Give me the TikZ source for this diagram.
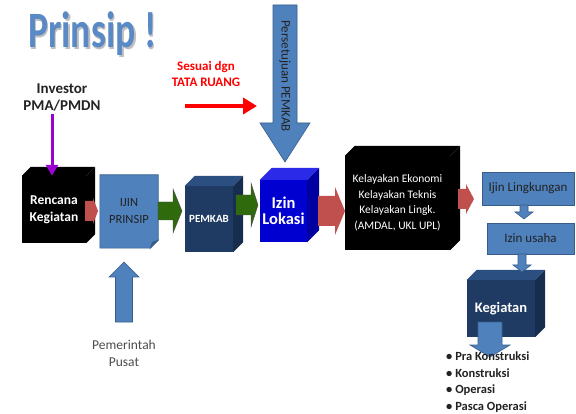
\documentclass[tikz,border=0pt]{standalone}
\usepackage{fontspec}
\setmainfont{Carlito}
\usetikzlibrary{arrows.meta,positioning,calc}
\pgfdeclarelayer{bg}
\pgfsetlayers{bg,main}
\definecolor{boxblue}{HTML}{4F81BD}
\definecolor{boxline}{HTML}{385D8A}
\definecolor{navy}{HTML}{1F3B63}
\definecolor{navytop}{HTML}{2B4F80}
\definecolor{navyside}{HTML}{172D4E}
\definecolor{lokblue}{HTML}{0000D0}
\definecolor{loktop}{HTML}{2A2AE8}
\definecolor{lokside}{HTML}{0000A0}
\definecolor{redarr}{HTML}{C0504D}
\definecolor{greenarr}{HTML}{2F6A0C}
\definecolor{titleblue}{HTML}{5A8AC6}
\definecolor{purplearr}{HTML}{9B00D3}
\definecolor{darktext}{HTML}{222222}
% block arrows: right (x1,x2,yc,shaft,head,headlen,style), down/up (xc,y1,y2,...)
\newcommand\rightblock[7]{\path[#7] (#1,#3-#4) -- (#2-#6,#3-#4) -- (#2-#6,#3-#5) -- (#2,#3)
  -- (#2-#6,#3+#5) -- (#2-#6,#3+#4) -- (#1,#3+#4) -- cycle;}
\newcommand\downblock[7]{\path[#7] (#1-#4,#2) -- (#1-#4,#3-#6) -- (#1-#5,#3-#6) -- (#1,#3)
  -- (#1+#5,#3-#6) -- (#1+#4,#3-#6) -- (#1+#4,#2) -- cycle;}
\newcommand\upblock[7]{\path[#7] (#1-#4,#2) -- (#1-#4,#3+#6) -- (#1-#5,#3+#6) -- (#1,#3)
  -- (#1+#5,#3+#6) -- (#1+#4,#3+#6) -- (#1+#4,#2) -- cycle;}
% top and side faces of a cube whose front is node #1
\newcommand\cubesides[4]{%
  \fill[#3] (#1.north west) -- ++(#2,-#2) -- ([shift={(#2,-#2)}]#1.north east) -- (#1.north east) -- cycle;
  \fill[#4] (#1.north east) -- ([shift={(#2,-#2)}]#1.north east) -- ([shift={(#2,-#2)}]#1.south east) -- (#1.south east) -- cycle;}
\begin{document}
\begin{tikzpicture}[x=1pt,y=-1pt,
  cube front/.style={inner sep=0pt, align=center, text=white, font=\bfseries},
  flat box/.style={fill=boxblue, draw=boxline, line width=0.6pt, inner sep=0pt,
    align=center, text=darktext},
  lbl/.style={inner sep=0pt, align=center},
  red block/.style={fill=redarr},
  green block/.style={fill=greenarr, draw=black!70, line width=0.4pt},
  blue block/.style={fill=boxblue, draw=boxline, line width=0.6pt}]

  \clip (0,0) rectangle (576,414);

  % title
  \node[lbl, anchor=base west, text=black!25] (titleshadow) at (29.5,49.5)
    {\fontsize{51}{51}\selectfont\bfseries\scalebox{0.74}[1]{Prinsip !}};
  \node[lbl, anchor=base west, text=titleblue] (title) at (28,48)
    {\fontsize{51}{51}\selectfont\bfseries\scalebox{0.74}[1]{Prinsip !}};

  % labels
  \node[lbl, text=darktext, font=\fontsize{15}{17}\selectfont\bfseries] (inv) at (62,97)
    {Investor\\PMA/PMDN};
  \node[lbl, text=red, font=\fontsize{13}{16}\selectfont\bfseries] (tata) at (206,74)
    {Sesuai dgn\\TATA RUANG};
  \node[lbl, text=black!70, font=\fontsize{13.5}{17}\selectfont] (pusat) at (124,353)
    {Pemerintah\\Pusat};

  % cubes and boxes
  \node[cube front, fill=black, minimum width=64, minimum height=67,
    font=\fontsize{13.5}{17}\selectfont\bfseries] (rk) at (54,209.5) {Rencana\\Kegiatan};
  \node[lbl, minimum width=58, minimum height=73, text=darktext,
    font=\fontsize{12.5}{17}\selectfont] (ip) at (129,211.5) {IJIN\\PRINSIP};
  \node[cube front, fill=navy, minimum width=48, minimum height=66,
    font=\fontsize{11}{13}\selectfont\bfseries] (pk) at (209,219) {PEMKAB};
  \node[cube front, fill=lokblue, minimum width=47, minimum height=62,
    font=\fontsize{16.5}{16}\selectfont\bfseries] (lok) at (283.5,211) {Izin\\Lokasi};
  \node[cube front, fill=black, minimum width=105, minimum height=94,
    font=\fontsize{11.5}{15.5}\selectfont] (kl) at (397.5,203)
    {\raisebox{4pt}{\begin{tabular}{@{}c@{}}Kelayakan Ekonomi\\Kelayakan Teknis\\
      Kelayakan Lingk.\\(AMDAL, UKL UPL)\end{tabular}}};
  \node[flat box, minimum width=92, minimum height=33,
    font=\fontsize{13}{15}\selectfont] (ling) at (528,188.5) {Ijin Lingkungan};
  \node[flat box, minimum width=87, minimum height=31,
    font=\fontsize{13}{15}\selectfont] (usaha) at (530.5,238.5) {Izin usaha};
  \node[cube front, fill=navy, minimum width=68, minimum height=57,
    font=\fontsize{14.5}{15}\selectfont\bfseries] (kg) at (501,308.5) {Kegiatan};

  \begin{pgfonlayer}{bg}
    \cubesides{rk}{9}{black}{black}
    \cubesides{pk}{10}{navytop}{navyside}
    \cubesides{lok}{12}{loktop}{lokside}
    \cubesides{kl}{10}{black}{black}
    \cubesides{kg}{10}{navytop}{navyside}
    % folded document
    \path[fill=boxblue, draw=boxline, line width=0.6pt] (ip.north west) -- (ip.north east)
      -- ([yshift=8pt]ip.south east) -- ([xshift=-8pt]ip.south east) -- (ip.south west) -- cycle;
    \path[fill=boxline, draw=boxline, line width=0.6pt] ([yshift=8pt]ip.south east)
      -- ([xshift=-6pt,yshift=6pt]ip.south east) -- ([xshift=-8pt]ip.south east) -- cycle;
  \end{pgfonlayer}

  % block arrows
  \rightblock{85}{98}{211}{10}{13}{5}{red block}
  \rightblock{158}{182}{211}{9}{22}{9}{green block}
  \rightblock{236}{258}{205}{10}{22}{7}{green block}
  \rightblock{318}{345}{211}{15}{24}{10}{red block}
  \rightblock{458}{474}{199}{10}{15}{8}{red block}
  \downblock{524}{205}{219}{4}{9}{7}{blue block}
  \downblock{522}{254}{272}{4}{9}{7}{blue block}
  \downblock{490}{322}{357}{12}{20}{12}{blue block}
  \downblock{285}{5}{162}{12}{25}{39}{blue block}
  \upblock{124}{322}{262}{8.5}{15}{15}{blue block}
  \node[lbl, rotate=-90, text=darktext, font=\fontsize{13}{15}\selectfont] (setuju) at (285,76)
    {Persetujuan PEMKAB};

  % thin arrows
  \draw[purplearr, line width=3pt, -{Triangle[length=11pt,width=12pt]}]
    ([xshift=-10pt,yshift=-3pt]inv.south) -- ([xshift=-2pt]rk.north);
  \coordinate (tataS) at (185,106);
  \coordinate (tataE) at (257,106);
  \draw[red, line width=4.5pt, -{Triangle[length=14pt,width=16pt]}] (tataS) -- (tataE);

  % list
  \node[lbl, anchor=north west, align=left, text=darktext,
    font=\fontsize{12.5}{16.5}\selectfont\bfseries] (fase) at (446,352)
    {\textbullet\ Pra Konstruksi\\\textbullet\ Konstruksi\\\textbullet\ Operasi\\\textbullet\ Pasca Operasi};
\end{tikzpicture}
\end{document}
